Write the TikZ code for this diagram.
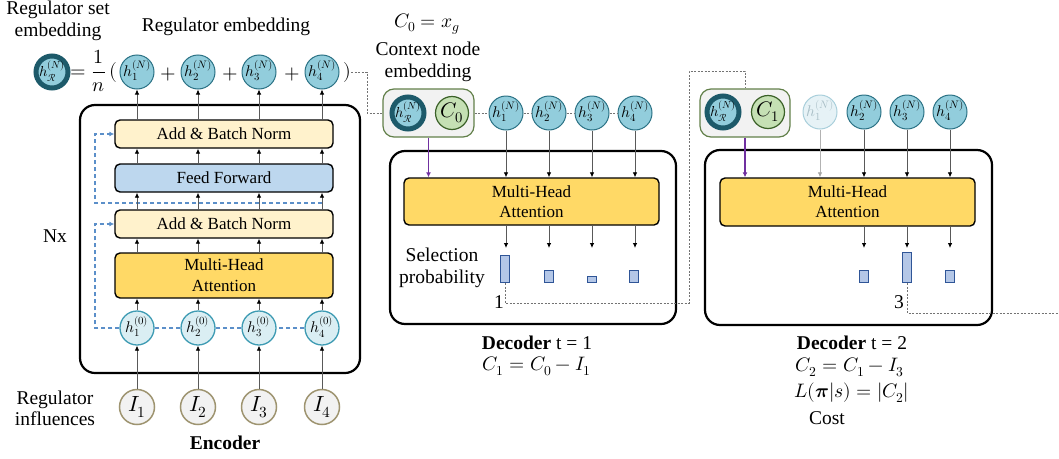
\documentclass[tikz,border=0pt]{standalone}
\usepackage{amsmath}
\usepackage{unicode-math}
\setmainfont{Liberation Serif}
\usetikzlibrary{arrows.meta,calc}

\definecolor{hfill}{HTML}{92CDDC}
\definecolor{hline}{HTML}{2B7285}
\definecolor{hzfill}{HTML}{DAEEF3}
\definecolor{hzline}{HTML}{3E9BB3}
\definecolor{hdark}{HTML}{1D5A6A}
\definecolor{paleg}{HTML}{F2F2F2}
\definecolor{inline}{HTML}{9E9470}
\definecolor{cfill}{HTML}{C5E0B4}
\definecolor{cline}{HTML}{3B6128}
\definecolor{ctxline}{HTML}{62804A}
\definecolor{normfill}{HTML}{FFF2CC}
\definecolor{fffill}{HTML}{BDD7EE}
\definecolor{mhafill}{HTML}{FFD966}
\definecolor{barfill}{HTML}{B4C7E7}
\definecolor{barline}{HTML}{2F5597}
\definecolor{resblue}{HTML}{5B8FC9}
\definecolor{selpurple}{HTML}{7030A0}
\definecolor{fadefill}{HTML}{E6F2F6}
\definecolor{fadeline}{HTML}{A9CFDB}
\definecolor{fadetext}{HTML}{A8BEC6}

% math label set inside a circle without enlarging it
\newcommand{\inmath}[1]{\makebox[0pt][c]{\raisebox{-4.5pt}[0pt][0pt]{$#1$}}}

\tikzset{
  lbl/.style={font=\fontsize{19.5}{22}\selectfont, align=center, inner sep=0pt},
  boxtxt/.style={font=\fontsize{17}{21}\selectfont, align=center},
  hnode/.style={circle, fill=hfill, draw=hline, line width=1pt, minimum size=34pt,
    inner sep=0pt, font=\fontsize{15.5}{16}\selectfont},
  hzero/.style={hnode, fill=hzfill, draw=hzline, line width=1.3pt},
  hfade/.style={hnode, fill=fadefill, draw=fadeline, text=fadetext},
  hset/.style={circle, fill=hfill, draw=hdark, line width=5pt, minimum size=32pt,
    inner sep=0pt, font=\fontsize{14.5}{15}\selectfont},
  inode/.style={circle, fill=paleg, draw=inline, line width=1.5pt, minimum size=35pt,
    inner sep=0pt, font=\fontsize{22}{22}\selectfont},
  cnode/.style={circle, fill=cfill, draw=cline, line width=1.2pt, minimum size=33pt,
    inner sep=0pt, font=\fontsize{21}{21}\selectfont},
  ctx/.style={draw=ctxline, fill=paleg, line width=1.2pt, rounded corners=11pt,
    minimum height=48pt, inner sep=0pt},
  frame/.style={draw=black, line width=2.2pt, rounded corners=15pt},
  layer/.style={draw=black, line width=1.4pt, rounded corners=5pt, boxtxt, inner sep=0pt},
  bar/.style={draw=barline, fill=barfill, line width=1pt, minimum width=9pt,
    inner sep=0pt, anchor=south},
  arr/.style={draw=black!65, line width=0.8pt, -{Latex[length=5pt,width=4.5pt,color=black]}},
  fadearr/.style={draw=black!30, line width=0.8pt, -{Latex[length=5pt,width=4.5pt,color=black!35]}},
  selarr/.style={draw=selpurple, line width=1.3pt, -{Latex[length=5pt,width=5pt]}},
  res/.style={draw=resblue, line width=1.2pt, dash pattern=on 4pt off 3pt},
  resarr/.style={res, -{Latex[length=5pt,width=5pt]}},
  dotline/.style={draw=black!55, line width=0.7pt, dash pattern=on 2pt off 1.5pt},
  eqpart/.style={font=\fontsize{20}{20}\selectfont, inner sep=0pt},
}

\begin{document}
\begin{tikzpicture}[x=1pt, y=-1pt]
\useasboundingbox (0,0) rectangle (1059,458);

% ---------------- Encoder ----------------
\draw[frame] (80,105) rectangle (360,373);

\node[layer, fill=normfill, minimum width=218pt, minimum height=28pt] (ab1) at (224,134) {Add \& Batch Norm};
\node[layer, fill=fffill, minimum width=218pt, minimum height=28pt] (ff) at (224,178) {Feed Forward};
\node[layer, fill=normfill, minimum width=218pt, minimum height=28pt] (ab2) at (224,224) {Add \& Batch Norm};
\node[layer, fill=mhafill, minimum width=218pt, minimum height=45pt] (mha) at (224,275.5) {Multi-Head\\Attention};

\foreach \i/\x in {1/137, 2/198, 3/259, 4/322} {
  \node[hzero] (h0\i) at (\x,328) {\inmath{h_{\i}^{(0)}}};
  \node[inode] (in\i) at (\x,407) {$I_{\i}$};
  \node[hnode] (hN\i) at (\x,72) {\inmath{h_{\i}^{(N)}}};
}

% residual connections
\coordinate (res1) at (95,328);
\coordinate (res2s) at (322,203);
\coordinate (res2) at (95,203);
\draw[res] (h04) -- (h03) -- (h02) -- (h01);
\draw[resarr] (h01.west) -- (res1) |- (ab2.west);
\draw[resarr] (res2s) -- (res2) |- (ab1.west);

\foreach \i in {1,2,3,4} {
  \draw[arr] (in\i) -- (h0\i);
  \draw[arr] (h0\i) -- (h0\i |- mha.south);
  \draw[arr] (h0\i |- mha.north) -- (h0\i |- ab2.south);
  \draw[arr] (h0\i |- ab2.north) -- (h0\i |- ff.south);
  \draw[arr] (h0\i |- ff.north) -- (h0\i |- ab1.south);
  \draw[arr] (h0\i |- ab1.north) -- (hN\i);
}

% set embedding as the mean of the regulator embeddings
\node[hset] (hR) at (52,72) {\inmath{h_{\mathcal{R}}^{(N)}}};
\node[eqpart, anchor=west] (eq) at (70,71) {$\displaystyle =\frac{1}{n}\,($};
\node[eqpart] (p1) at (168,74) {$+$};
\node[eqpart] (p2) at (230,74) {$+$};
\node[eqpart] (p3) at (292,74) {$+$};
\node[eqpart] (rp) at (347,72) {$)$};

\node[lbl] (tset) at (58,21) {Regulator set\\embedding};
\node[lbl] (temb) at (226,27) {Regulator embedding};
\node[lbl] (tnx) at (55,236) {Nx};
\node[lbl, font=\fontsize{19.5}{21}\selectfont] (tinf) at (55,408) {Regulator\\influences};
\node[lbl] (tenc) at (225,443) {\textbf{Encoder}};

% ---------------- Decoder t = 1 ----------------
\draw[frame] (390,151) rectangle (676,324);
\node[layer, fill=mhafill, minimum width=255pt, minimum height=47pt, font=\fontsize{17}{20}\selectfont] (dmha1) at (531.5,201.5) {Multi-Head\\Attention};

\node[ctx, minimum width=91pt] (ctx1) at (428.5,113) {};
\node[hset] (hR1) at (408,113) {\inmath{h_{\mathcal{R}}^{(N)}}};
\node[cnode] (c0) at (452,113) {$C_0$};

\foreach \i/\x in {1/506, 2/549, 3/592, 4/635} {
  \node[hnode] (d1\i) at (\x,113) {\inmath{h_{\i}^{(N)}}};
  \coordinate (o1\i) at (\x,248);
}
\draw[dotline] (ctx1.east) -- (d11);
\draw[dotline] (d11) -- (d12);
\draw[dotline] (d12) -- (d13);
\draw[dotline] (d13) -- (d14);

\coordinate (j1) at (367,113);
\draw[dotline] (rp.east) -| (j1) -- (ctx1.west);

\draw[selarr] (ctx1.south) -- (ctx1.south |- dmha1.north);
\foreach \i in {1,2,3,4} {
  \draw[arr] (d1\i) -- (d1\i |- dmha1.north);
  \draw[arr] (d1\i |- dmha1.south) -- (o1\i);
}

\node[bar, minimum height=27pt] (b11) at (505,283) {};
\node[bar, minimum height=12pt] (b12) at (549,283) {};
\node[bar, minimum height=6pt]  (b13) at (592,283) {};
\node[bar, minimum height=12pt] (b14) at (634,283) {};

\node[lbl] (tsel) at (442,268) {Selection\\probability};
\node[lbl] (t1) at (499,302) {1};
\node[lbl] (tdec1) at (537,343) {\textbf{Decoder} t = 1};
\node[lbl] (tc1) at (537,366) {$C_1 = C_0 - I_1$};
\node[lbl] (tc0) at (427,24) {$C_0 = x_{\mathscr{g}}$};
\node[lbl] (tctx) at (428,62) {Context node\\embedding};

% ---------------- Decoder t = 2 ----------------
\draw[frame] (705,150) rectangle (992,325);
\node[layer, fill=mhafill, minimum width=255pt, minimum height=48pt, font=\fontsize{17}{20}\selectfont] (dmha2) at (847.5,202) {Multi-Head\\Attention};

\node[ctx, minimum width=90pt] (ctx2) at (745,113) {};
\node[hset] (hR2) at (723,112) {\inmath{h_{\mathcal{R}}^{(N)}}};
\node[cnode] (c1) at (768,112) {$C_1$};

\node[hfade] (d21) at (820,112) {\inmath{h_{1}^{(N)}}};
\foreach \i/\x in {2/864, 3/907, 4/950} {
  \node[hnode] (d2\i) at (\x,112) {\inmath{h_{\i}^{(N)}}};
  \coordinate (o2\i) at (\x,248);
}

\draw[selarr] (ctx2.south) -- (ctx2.south |- dmha2.north);
\draw[fadearr] (d21) -- (d21 |- dmha2.north);
\foreach \i in {2,3,4} {
  \draw[arr] (d2\i) -- (d2\i |- dmha2.north);
  \draw[arr] (d2\i |- dmha2.south) -- (o2\i);
}

\node[bar, minimum height=12pt] (b22) at (864,283) {};
\node[bar, minimum height=30pt] (b23) at (907,283) {};
\node[bar, minimum height=12pt] (b24) at (950,283) {};

\node[lbl] (t3) at (899,302) {3};
\node[lbl] (tdec2) at (852,343) {\textbf{Decoder} t = 2};
\node[lbl] (tc2) at (850,367) {$C_2 = C_1 - I_3$};
\node[lbl] (tcost) at (852,393) {$L(\symbf{\pi}|s) = |C_2|$};
\node[lbl] (tcostw) at (827,418) {Cost};

% selected regulator feeds the next step
\coordinate (r1) at (689,303);
\coordinate (r2) at (689,71);
\draw[dotline] (b11.south) |- (r1) -- (r2) -| (ctx2.north);
\coordinate (r3) at (1059,313);
\draw[dotline] (b23.south) |- (r3);
\end{tikzpicture}
\end{document}
